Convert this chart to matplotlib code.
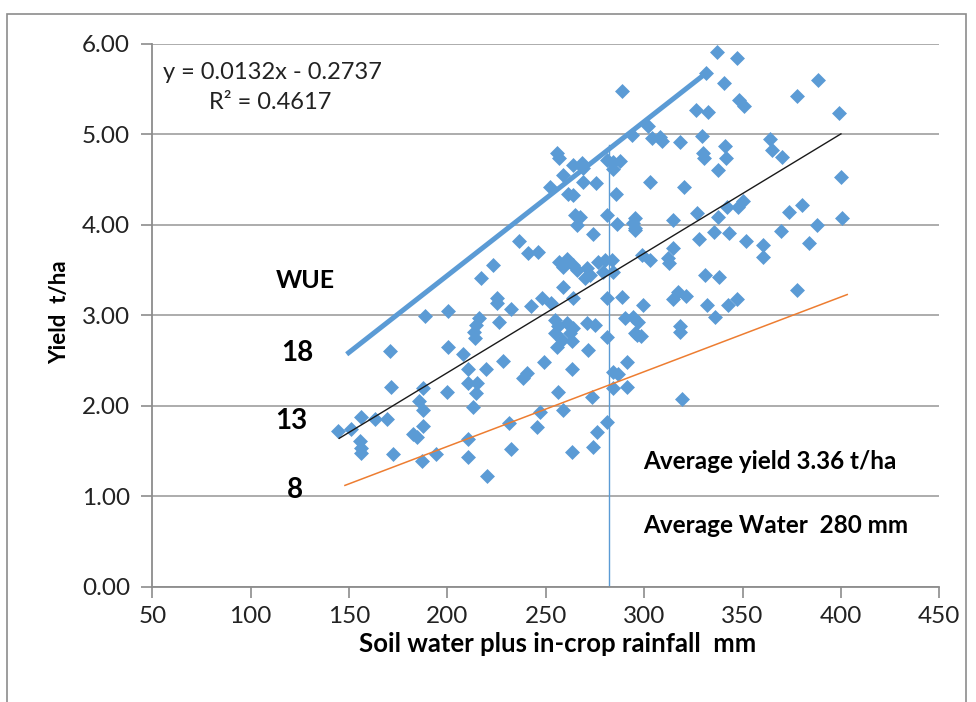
import matplotlib.pyplot as plt
from matplotlib.patches import Rectangle

plt.rcParams['font.family'] = ['Lato', 'DejaVu Sans']

# Soil water plus in-crop rainfall (mm) and grain yield (t/ha) per site
water = [144.4, 151.0, 156.1, 155.6, 156.1, 156.1, 163.2, 169.3, 171.3, 172.3,
         182.5, 184.5, 187.6, 185.6, 187.6, 187.6, 187.1, 194.2, 199.8, 210.5,
         210.5, 215.0, 214.5, 213.0, 210.5, 210.5, 219.6, 220.1, 228.3, 231.3,
         232.3, 238.4, 240.4, 247.1, 245.5, 249.1, 256.2, 258.7, 263.3, 263.3,
         273.5, 276.0, 274.0, 281.1, 284.2, 286.7, 284.2, 291.3, 291.3, 170.8,
         188.6, 200.3, 200.3, 207.9, 216.0, 214.5, 213.5, 214.0, 217.1, 223.2,
         225.2, 225.2, 226.2, 232.3, 236.4, 241.0, 246.0, 242.5, 248.1, 252.6,
         254.7, 256.2, 254.7, 258.2, 255.7, 260.8, 262.3, 263.3, 263.8, 256.7,
         260.8, 258.7, 263.8, 265.9, 258.7, 263.8, 264.8, 267.4, 265.9, 274.0,
         270.9, 272.5, 269.9, 270.9, 275.0, 271.4, 276.5, 280.1, 283.6, 279.1,
         284.2, 281.1, 281.1, 288.7, 281.1, 286.2, 294.3, 295.3, 290.3, 294.3,
         295.3, 288.7, 255.7, 256.7, 263.8, 268.4, 268.9, 258.7, 252.1, 261.3,
         263.8, 268.9, 275.5, 281.1, 284.2, 287.7, 284.2, 285.7, 293.8, 337.0,
         347.2, 331.4, 340.6, 388.4, 377.7, 348.2, 350.7, 326.3, 332.4, 399.0,
         301.9, 304.0, 308.0, 309.1, 318.2, 329.4, 364.0, 365.0, 370.1, 341.1,
         341.6, 329.9, 330.4, 337.5, 303.0, 320.2, 400.0, 380.2, 373.6, 350.2,
         347.7, 342.1, 337.5, 326.9, 295.3, 314.7, 400.6, 295.3, 387.8, 369.5,
         335.5, 343.1, 327.9, 351.8, 360.4, 360.4, 383.8, 314.7, 298.9, 303.0,
         312.1, 312.6, 330.9, 338.0, 377.7, 314.7, 317.2, 321.3, 299.4, 331.9,
         342.6, 347.2, 336.0, 296.9, 296.4, 298.4, 318.2, 318.2, 319.2]

yields = [1.72, 1.74, 1.88, 1.61, 1.53, 1.48, 1.85, 1.85, 2.21, 1.47,
          1.69, 1.66, 1.78, 2.05, 1.95, 2.20, 1.39, 1.47, 2.15, 2.41,
          2.25, 2.25, 2.14, 1.99, 1.63, 1.43, 2.41, 1.22, 2.50, 1.81,
          1.52, 2.31, 2.36, 1.93, 1.77, 2.48, 2.15, 1.95, 2.41, 1.49,
          2.10, 1.71, 1.54, 1.82, 2.37, 2.35, 2.20, 2.21, 2.48, 2.61,
          2.99, 3.05, 2.65, 2.57, 2.97, 2.89, 2.82, 2.75, 3.41, 3.56,
          3.19, 3.14, 2.93, 3.07, 3.82, 3.69, 3.70, 3.10, 3.19, 3.14,
          2.95, 2.88, 2.80, 2.73, 2.65, 2.92, 2.80, 2.72, 2.86, 3.59,
          3.62, 3.53, 3.56, 3.50, 3.31, 3.19, 4.11, 4.09, 4.00, 3.90,
          3.52, 3.45, 3.41, 2.92, 2.89, 2.62, 3.59, 3.61, 3.61, 3.48,
          3.48, 4.11, 3.19, 3.20, 2.76, 4.01, 4.02, 3.94, 2.97, 2.98,
          2.80, 5.48, 4.80, 4.74, 4.66, 4.68, 4.63, 4.55, 4.42, 4.34,
          4.33, 4.47, 4.46, 4.72, 4.70, 4.71, 4.62, 4.34, 4.99, 5.91,
          5.85, 5.68, 5.57, 5.60, 5.43, 5.38, 5.31, 5.27, 5.25, 5.24,
          5.09, 4.96, 4.97, 4.93, 4.92, 4.98, 4.95, 4.83, 4.75, 4.87,
          4.74, 4.80, 4.74, 4.61, 4.47, 4.42, 4.53, 4.22, 4.14, 4.26,
          4.20, 4.20, 4.09, 4.13, 4.08, 4.05, 4.08, 3.97, 4.00, 3.93,
          3.92, 3.91, 3.84, 3.82, 3.78, 3.65, 3.80, 3.74, 3.67, 3.61,
          3.63, 3.58, 3.45, 3.42, 3.28, 3.18, 3.26, 3.21, 3.11, 3.11,
          3.11, 3.18, 2.98, 2.93, 2.78, 2.77, 2.88, 2.82, 2.08]

# linear trend fitted to the data
slope = 0.0132
intercept = -0.2737
r_squared = 0.4617
trend_x = [145, 400]

# water-use-efficiency guide lines (kg/ha/mm)
wue18_x = [148.8, 330.4]
wue18_y = [2.57, 5.66]
wue8_x = [147.9, 403.2]
wue8_y = [1.12, 3.23]

avg_water = 282
avg_line_top = 4.88

blue = '#5b9bd5'
orange = '#ed7d31'
grid_grey = '#a6a6a6'

fig = plt.figure(figsize=(9.76, 7.02), dpi=100)
ax = fig.add_axes([152.3 / 976, 1 - 586.7 / 702, 787 / 976, 542.7 / 702])

fig.patches.append(Rectangle((7 / 976, -0.05), 959 / 976, 1 - 14 / 702 + 0.05,
                             transform=fig.transFigure, fill=False,
                             edgecolor='#8c8c8c', linewidth=1.2))

ax.set_xlim(50, 450)
ax.set_ylim(0, 6)
ax.set_xticks(range(50, 451, 50))
ax.set_yticks(range(0, 7))
ax.set_yticklabels(['%.2f' % v for v in range(0, 7)])

ax.grid(axis='y', color=grid_grey, linewidth=1.3)
ax.set_axisbelow(True)
for side in ['top', 'right']:
    ax.spines[side].set_visible(False)
for side in ['left', 'bottom']:
    ax.spines[side].set_color('#8c8c8c')
    ax.spines[side].set_linewidth(1.3)
ax.tick_params(axis='both', direction='out', length=8, width=1.2,
               color='#8c8c8c', labelsize=17.5, labelcolor='#222222')
ax.tick_params(axis='y', pad=8)
ax.tick_params(axis='x', pad=6)

ax.plot([avg_water, avg_water], [0, avg_line_top], color=blue, linewidth=1.0, zorder=2)
ax.scatter(water, yields, marker='D', s=58, color=blue, linewidths=0, zorder=3)
ax.plot(trend_x, [slope * x + intercept for x in trend_x], color='#1a1a1a',
        linewidth=1.0, zorder=4)
ax.plot(wue18_x, wue18_y, color=blue, linewidth=3.6, solid_capstyle='butt', zorder=4)
ax.plot(wue8_x, wue8_y, color=orange, linewidth=1.1, zorder=4)

ax.text(55.5, 5.68, 'y = %.4fx - %.4f' % (slope, -intercept), fontsize=17,
        va='center', ha='left', color='#222222')
ax.text(78.9, 5.35, 'R² = %.4f' % r_squared, fontsize=17,
        va='center', ha='left', color='#222222')

ax.text(127.6, 3.39, 'WUE', fontsize=18, fontweight='bold', ha='center', va='center')
ax.text(123.5, 2.58, '18', fontsize=20, fontweight='bold', ha='center', va='center')
ax.text(120.5, 1.83, '13', fontsize=20, fontweight='bold', ha='center', va='center')
ax.text(122.5, 1.07, '8', fontsize=20, fontweight='bold', ha='center', va='center')

ax.text(299.4, 1.38, 'Average yield 3.36 t/ha', fontsize=17.5, fontweight='bold',
        ha='left', va='center')
ax.text(299.4, 0.68, 'Average Water  280 mm', fontsize=17.5, fontweight='bold',
        ha='left', va='center')

fig.text(558 / 976, 1 - 644 / 702, 'Soil water plus in-crop rainfall  mm',
         fontsize=18.5, fontweight='bold', ha='center', va='center')
fig.text(60 / 976, 1 - 312 / 702, 'Yield  t/ha', fontsize=16, fontweight='bold',
         rotation=90, ha='center', va='center')

fig.savefig('out.png', dpi=100, facecolor='white')
